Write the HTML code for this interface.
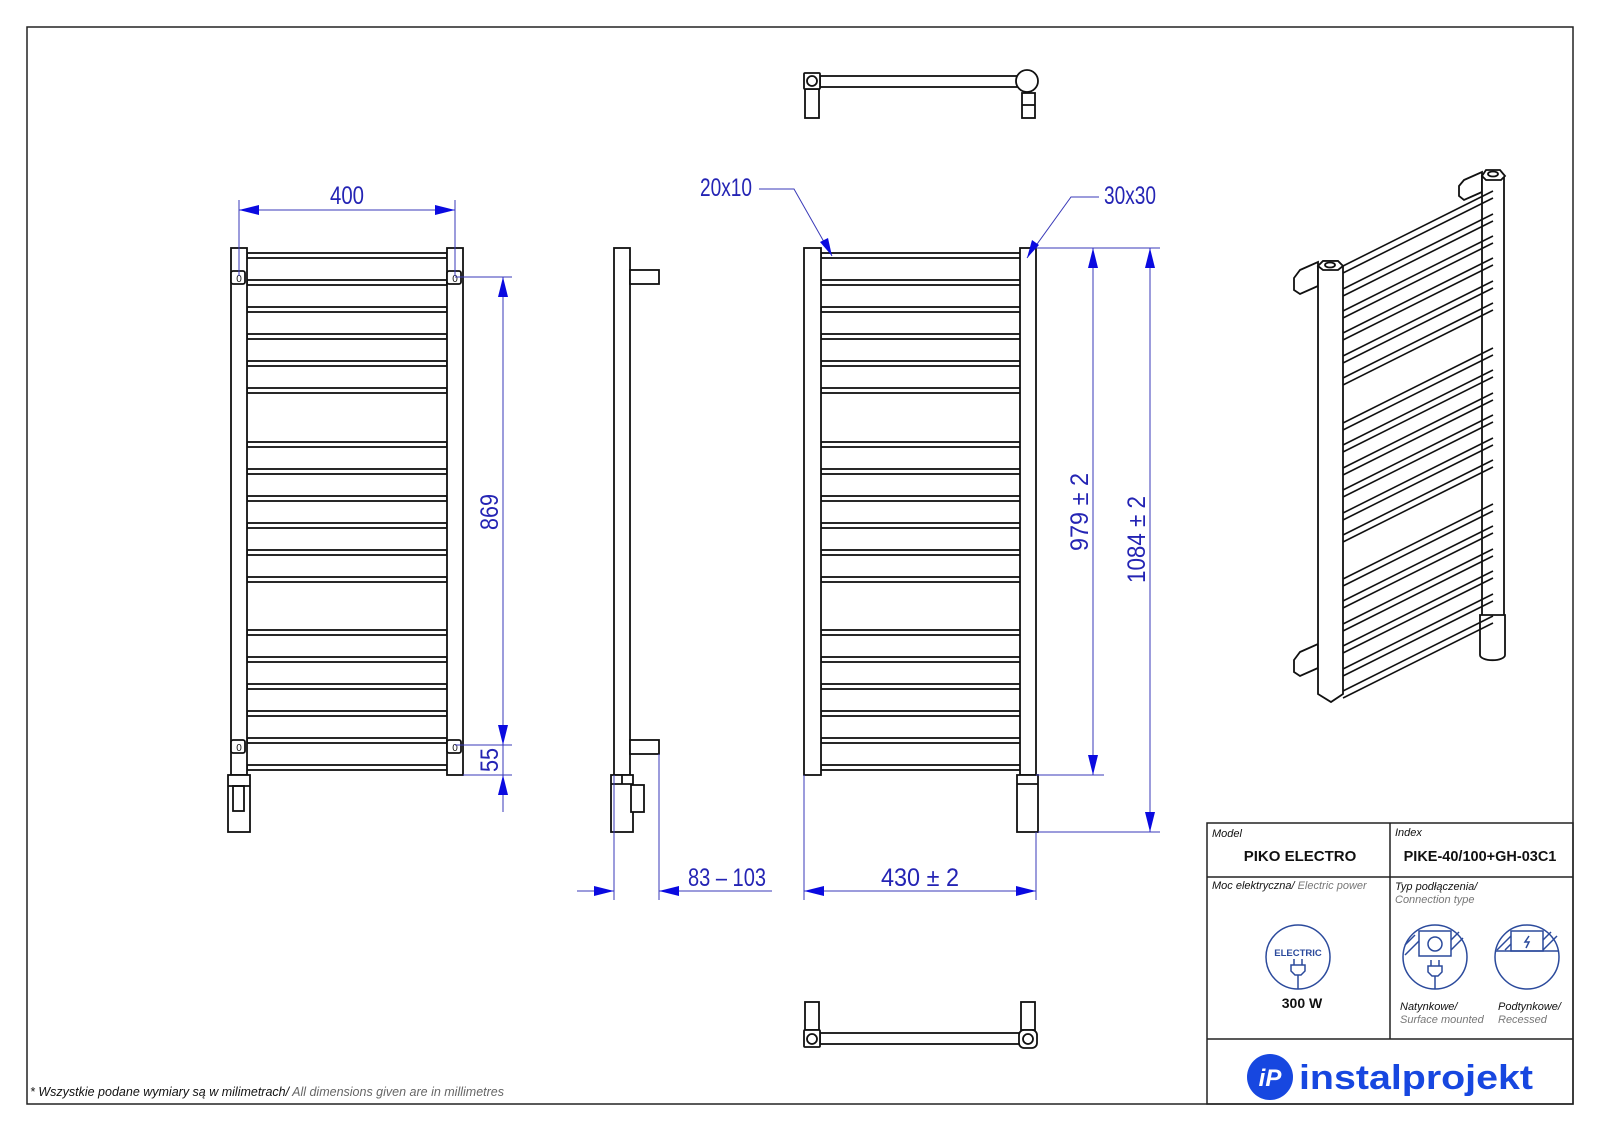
<!DOCTYPE html>
<html><head><meta charset="utf-8"><style>
html,body{margin:0;padding:0;background:#fff}
svg{display:block}
.k{fill:none;stroke:#111;stroke-width:1.8}
.kw{fill:#fff;stroke:#111;stroke-width:1.8}
.d{stroke:#3a3ab8;stroke-width:1;fill:none}
.a{fill:#0a0ae0}
.t{font-family:"Liberation Sans",sans-serif;font-size:25px;fill:#2424b4}
</style></head><body>
<svg width="1600" height="1131" viewBox="0 0 1600 1131" xmlns="http://www.w3.org/2000/svg">
<defs>
<g id="rg">
<rect x="0" y="253" width="200" height="5"/><rect x="0" y="280" width="200" height="5"/><rect x="0" y="307" width="200" height="5"/>
<rect x="0" y="334" width="200" height="5"/><rect x="0" y="361" width="200" height="5"/><rect x="0" y="388" width="200" height="5"/>
<rect x="0" y="442" width="200" height="5"/><rect x="0" y="469" width="200" height="5"/><rect x="0" y="496" width="200" height="5"/>
<rect x="0" y="523" width="200" height="5"/><rect x="0" y="550" width="200" height="5"/><rect x="0" y="577" width="200" height="5"/>
<rect x="0" y="630" width="200" height="5"/><rect x="0" y="657" width="200" height="5"/><rect x="0" y="684" width="200" height="5"/>
<rect x="0" y="711" width="200" height="5"/><rect x="0" y="738" width="200" height="5"/><rect x="0" y="765" width="200" height="5"/>
</g>
<path id="ir" d="M1343 0 L1493 -75 M1343 7 L1493 -68" fill="none" stroke="#111" stroke-width="1.6"/>
</defs>
<rect x="27" y="27" width="1546" height="1077" fill="none" stroke="#222" stroke-width="1.5"/>

<!-- LEFT VIEW -->
<g class="kw"><use href="#rg" x="247"/></g>
<rect class="kw" x="231" y="248" width="16" height="527"/>
<rect class="kw" x="447" y="248" width="16" height="527"/>
<rect class="kw" x="231" y="271" width="14" height="13" rx="2"/>
<rect class="kw" x="447" y="271" width="14" height="13" rx="2"/>
<rect class="kw" x="231" y="740" width="14" height="13" rx="2"/>
<rect class="kw" x="447" y="740" width="14" height="13" rx="2"/>
<g font-family="Liberation Sans,sans-serif" font-size="10" fill="#111" text-anchor="middle">
<text x="239" y="282">0</text><text x="455" y="282">0</text><text x="239" y="751">0</text><text x="455" y="751">0</text></g>
<rect class="kw" x="228" y="775" width="22" height="57"/>
<line class="k" x1="228" y1="786" x2="250" y2="786"/>
<rect class="k" x="233" y="786" width="11" height="25"/>
<!-- dims left -->
<line class="d" x1="239" y1="200" x2="239" y2="276"/><line class="d" x1="455" y1="200" x2="455" y2="276"/>
<line class="d" x1="239" y1="210" x2="455" y2="210"/>
<path class="a" d="M239 210 l20 -5 v10z M455 210 l-20 -5 v10z"/>
<text class="t" x="330" y="204" textLength="34" lengthAdjust="spacingAndGlyphs">400</text>
<line class="d" x1="455" y1="277" x2="512" y2="277"/><line class="d" x1="455" y1="745" x2="512" y2="745"/><line class="d" x1="463" y1="775" x2="512" y2="775"/>
<line class="d" x1="503" y1="277" x2="503" y2="812"/>
<path class="a" d="M503 277 l-5 20 h10z M503 745 l-5 -20 h10z M503 775 l-5 20 h10z"/>
<text class="t" transform="translate(498,530) rotate(-90)" textLength="36" lengthAdjust="spacingAndGlyphs">869</text>
<text class="t" transform="translate(498,772) rotate(-90)" textLength="24" lengthAdjust="spacingAndGlyphs">55</text>

<!-- SIDE VIEW -->
<rect class="kw" x="614" y="248" width="16" height="527"/>
<rect class="kw" x="630" y="270" width="29" height="14"/>
<rect class="kw" x="630" y="740" width="29" height="14"/>
<rect class="kw" x="611" y="775" width="22" height="57"/>
<line class="k" x1="611" y1="784" x2="633" y2="784"/><line class="k" x1="622" y1="775" x2="622" y2="784"/>
<rect class="kw" x="631" y="785" width="13" height="27"/>
<line class="d" x1="614" y1="775" x2="614" y2="900"/><line class="d" x1="659" y1="754" x2="659" y2="900"/>
<line class="d" x1="577" y1="891" x2="614" y2="891"/><line class="d" x1="659" y1="891" x2="772" y2="891"/>
<path class="a" d="M614 891 l-20 -5 v10z M659 891 l20 -5 v10z"/>
<text class="t" x="688" y="886" textLength="78" lengthAdjust="spacingAndGlyphs">83 – 103</text>

<!-- FRONT VIEW -->
<g class="kw"><use href="#rg" x="821"/></g>
<rect class="kw" x="804" y="248" width="17" height="527"/>
<rect class="kw" x="1020" y="248" width="16" height="527"/>
<rect class="kw" x="1017" y="775" width="21" height="57"/>
<line class="k" x1="1017" y1="784" x2="1038" y2="784"/>
<line class="d" x1="804" y1="775" x2="804" y2="900"/><line class="d" x1="1036" y1="832" x2="1036" y2="900"/>
<line class="d" x1="804" y1="891" x2="1036" y2="891"/>
<path class="a" d="M804 891 l20 -5 v10z M1036 891 l-20 -5 v10z"/>
<text class="t" x="881" y="886" textLength="78" lengthAdjust="spacingAndGlyphs">430  ± 2</text>
<line class="d" x1="1036" y1="248" x2="1160" y2="248"/>
<line class="d" x1="1036" y1="775" x2="1104" y2="775"/>
<line class="d" x1="1038" y1="832" x2="1160" y2="832"/>
<line class="d" x1="1093" y1="248" x2="1093" y2="775"/>
<line class="d" x1="1150" y1="248" x2="1150" y2="832"/>
<path class="a" d="M1093 248 l-5 20 h10z M1093 775 l-5 -20 h10z M1150 248 l-5 20 h10z M1150 832 l-5 -20 h10z"/>
<text class="t" transform="translate(1088,551) rotate(-90)" textLength="78" lengthAdjust="spacingAndGlyphs">979  ± 2</text>
<text class="t" transform="translate(1145,583) rotate(-90)" textLength="87" lengthAdjust="spacingAndGlyphs">1084  ± 2</text>
<text class="t" x="700" y="196" textLength="52" lengthAdjust="spacingAndGlyphs">20x10</text>
<path class="d" d="M759 189 H794 L832 256"/>
<path class="a" d="M832 256 l-12 -14 l8 -4z"/>
<text class="t" x="1104" y="204" textLength="52" lengthAdjust="spacingAndGlyphs">30x30</text>
<path class="d" d="M1099 197 H1071 L1027 258"/>
<path class="a" d="M1027 258 l5 -18 l7 5z"/>

<!-- TOP VIEW -->
<rect class="kw" x="805" y="89" width="14" height="29"/>
<rect class="kw" x="1022" y="93" width="13" height="25"/><line class="k" x1="1022" y1="105" x2="1035" y2="105"/>
<rect class="kw" x="820" y="76" width="200" height="11"/>
<rect class="kw" x="804" y="73" width="16" height="16" rx="1"/><circle class="k" cx="812" cy="81" r="5"/>
<circle class="kw" cx="1027" cy="81" r="11"/>
<!-- BOTTOM VIEW -->
<rect class="kw" x="805" y="1002" width="14" height="28"/>
<rect class="kw" x="1021" y="1002" width="14" height="28"/>
<rect class="kw" x="820" y="1033" width="200" height="11"/>
<rect class="kw" x="804" y="1030" width="16" height="17" rx="1"/><circle class="k" cx="812" cy="1039" r="5"/>
<rect class="kw" x="1019" y="1030" width="18" height="18" rx="5"/><circle class="k" cx="1028" cy="1039" r="5"/>

<!-- ISO VIEW -->
<path class="kw" d="M1300 270 l18 -8 v24 l-18 8 l-6 -4 v-12z"/>
<path class="kw" d="M1300 652 l18 -8 v24 l-18 8 l-6 -4 v-12z"/>
<path class="kw" d="M1464 180 l18 -8 v20 l-18 8 l-5 -4 v-10z"/>
<rect class="kw" x="1482" y="176" width="22" height="450"/>
<path class="kw" d="M1480 615 v40 a12 5 0 0 0 25 0 v-40z"/>
<path class="kw" d="M1482 176 l4 -6 h14 l5 6 l-4 4 h-15z"/><ellipse class="k" cx="1493" cy="174" rx="5" ry="2.5"/>
<g>
<use href="#ir" y="266"/><use href="#ir" y="289"/><use href="#ir" y="311"/><use href="#ir" y="333"/><use href="#ir" y="356"/><use href="#ir" y="378"/>
<use href="#ir" y="423"/><use href="#ir" y="445"/><use href="#ir" y="468"/><use href="#ir" y="490"/><use href="#ir" y="513"/><use href="#ir" y="535"/>
<use href="#ir" y="579"/><use href="#ir" y="601"/><use href="#ir" y="624"/><use href="#ir" y="646"/><use href="#ir" y="669"/><use href="#ir" y="691"/>
</g>
<path class="kw" d="M1318 266 l5 -5 h15 l5 5 v428 l-12 8 l-13 -8z"/>
<path class="kw" d="M1318 266 l5 -5 h15 l5 5 l-5 4 h-15z"/><ellipse class="k" cx="1330" cy="265" rx="5" ry="2.5"/>

<!-- footnote -->
<text x="30" y="1096" font-family="Liberation Sans,sans-serif" font-size="12.5" font-style="italic" fill="#111">* Wszystkie podane wymiary są w milimetrach/ <tspan fill="#666">All dimensions given are in millimetres</tspan></text>

<!-- TITLE BLOCK -->
<g stroke="#222" stroke-width="1.5" fill="none">
<rect x="1207" y="823" width="366" height="281"/>
<line x1="1207" y1="877" x2="1573" y2="877"/>
<line x1="1207" y1="1039" x2="1573" y2="1039"/>
<line x1="1390" y1="823" x2="1390" y2="1039"/>
</g>
<g font-family="Liberation Sans,sans-serif" font-size="11" font-style="italic" fill="#111">
<text x="1212" y="837">Model</text><text x="1395" y="836">Index</text>
<text x="1212" y="889">Moc elektryczna/ <tspan fill="#777">Electric power</tspan></text>
<text x="1395" y="890">Typ podłączenia/</text><text x="1395" y="903" fill="#777">Connection type</text>
<text x="1400" y="1010">Natynkowe/</text><text x="1400" y="1023" fill="#777">Surface mounted</text>
<text x="1498" y="1010">Podtynkowe/</text><text x="1498" y="1023" fill="#777">Recessed</text>
</g>
<g font-family="Liberation Sans,sans-serif" font-weight="bold" fill="#111" text-anchor="middle">
<text x="1300" y="861" font-size="15">PIKO ELECTRO</text>
<text x="1480" y="861" font-size="14.5">PIKE-40/100+GH-03C1</text>
<text x="1302" y="1008" font-size="14">300 W</text>
</g>
<g stroke="#2b4a9c" stroke-width="1.5" fill="none">
<circle cx="1298" cy="957" r="32"/>
<path d="M1294 965 v-6 M1302 965 v-6 M1291 965 h14 v6 l-4 4 h-6 l-4 -4z M1298 975 v14"/>
<circle cx="1435" cy="957" r="32"/>
<rect x="1419" y="931" width="32" height="25"/><circle cx="1435" cy="944" r="7"/>
<path d="M1431 960 v6 M1439 960 v6 M1428 966 h14 v6 l-4 4 h-6 l-4 -4z M1435 976 v13"/>
<path d="M1405 945 l10 -10 M1405 955 l14 -14 M1451 940 l8 -8 M1451 950 l12 -12" />
<circle cx="1527" cy="957" r="32"/>
<rect x="1511" y="931" width="32" height="20"/><line x1="1495" y1="951" x2="1559" y2="951"/>
<path d="M1497 950 l14 -14 M1505 950 l6 -6 M1543 940 l8 -8 M1543 950 l14 -14"/>
<path d="M1529 936 l-4 6 h4 l-3 6" />
</g>
<text x="1298" y="956" font-family="Liberation Sans,sans-serif" font-size="9.5" font-weight="bold" fill="#2b4a9c" text-anchor="middle">ELECTRIC</text>
<circle cx="1270" cy="1077" r="23" fill="#1747e0"/>
<text x="1270" y="1086" font-family="Liberation Sans,sans-serif" font-size="24" font-weight="bold" font-style="italic" fill="#fff" text-anchor="middle">iP</text>
<text x="1299" y="1089" font-family="Liberation Sans,sans-serif" font-size="34" font-weight="bold" fill="#1747e0" textLength="234" lengthAdjust="spacingAndGlyphs">instalprojekt</text>
</svg>
</body></html>
